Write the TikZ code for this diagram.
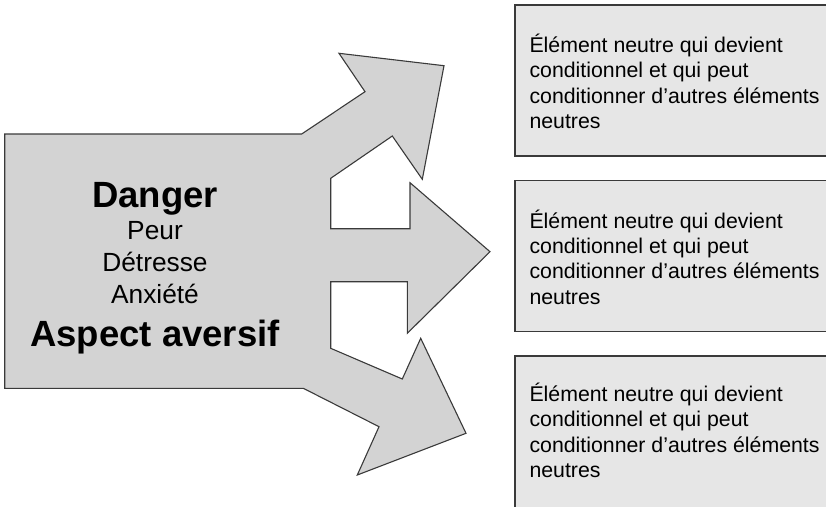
\documentclass[tikz,border=0pt]{standalone}
\usepackage{fontspec}
\setmainfont{Liberation Sans}
\begin{document}
\begin{tikzpicture}[x=1pt,y=-1pt,
  arrowshape/.style={fill=arrowgray,draw=edgegray,line width=1.1pt,line join=miter},
  infobox/.style={fill=boxgray,draw=edgegray,line width=1.1pt},
  % anchored on the baseline of the last line
  boxtext/.style={anchor=base west,inner sep=0pt,align=left,
    font=\fontsize{21.3}{25.3}\selectfont},
  bigword/.style={anchor=base,inner sep=0pt,font=\fontsize{36.5}{40}\selectfont\bfseries},
  smallword/.style={anchor=base,inner sep=0pt,font=\fontsize{26.3}{30}\selectfont}]
\definecolor{arrowgray}{HTML}{D3D3D3}
\definecolor{boxgray}{HTML}{E6E6E6}
\definecolor{edgegray}{HTML}{3A3A3A}
\useasboundingbox (0,0) rectangle (826,506);
\clip (0,0) rectangle (826,506);

% three-headed arrow
\draw[arrowshape] (4.7,134) -- (301.7,134) -- (365,91.7) -- (339,53.3) -- (444,65.7)
  -- (422.3,179.3) -- (392.3,136) -- (330.7,178.3) -- (330.7,228.7) -- (410,228.7)
  -- (410,182.7) -- (490,251.7) -- (407.3,333.3) -- (407.3,281.7) -- (330.7,281.7)
  -- (330.7,348.3) -- (402.3,379) -- (420.7,338.3) -- (466,433.3) -- (357.3,475)
  -- (379,426.7) -- (303.3,388.3) -- (4.7,388.3) -- cycle;

% words on the arrow
\node[bigword]   (danger)  at (155,207.3) {Danger};
\node[smallword] (peur)    at (155,239)   {Peur};
\node[smallword] (detr)    at (155,271.5) {Détresse};
\node[smallword] (anx)     at (155,303)   {Anxiété};
\node[bigword]   (aspect)  at (155,346.5) {Aspect aversif};

% target boxes
\draw[infobox] (515,5) rectangle (850,156);
\draw[infobox] (515,180.7) rectangle (850,331.7);
\draw[infobox] (515,356) rectangle (850,530);

\node[boxtext] (t1) at (529.3,128.5) {Élément neutre qui devient\\conditionnel et qui peut\\conditionner d’autres éléments\\neutres};
\node[boxtext] (t2) at (529.3,304.1) {Élément neutre qui devient\\conditionnel et qui peut\\conditionner d’autres éléments\\neutres};
\node[boxtext] (t3) at (529.3,477.5) {Élément neutre qui devient\\conditionnel et qui peut\\conditionner d’autres éléments\\neutres};
\end{tikzpicture}
\end{document}
